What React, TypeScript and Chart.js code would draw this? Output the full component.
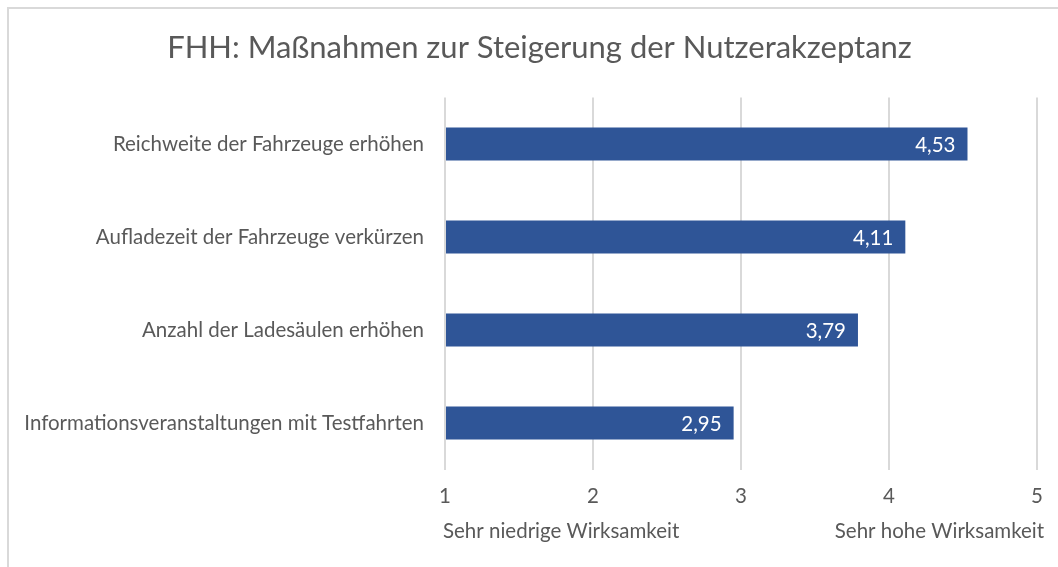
import React, { useEffect, useRef } from 'react';
import { Chart, registerables } from 'chart.js';

Chart.register(...registerables);

const title = 'FHH: Maßnahmen zur Steigerung der Nutzerakzeptanz';
const categories = [
  'Reichweite der Fahrzeuge erhöhen',
  'Aufladezeit der Fahrzeuge verkürzen',
  'Anzahl der Ladesäulen erhöhen',
  'Informationsveranstaltungen mit Testfahrten',
];
const values = [4.53, 4.11, 3.79, 2.95];
const xMin = 1;
const xMax = 5;
const scaleLabelLow = 'Sehr niedrige Wirksamkeit';
const scaleLabelHigh = 'Sehr hohe Wirksamkeit';

const FONT = 'Lato, "Open Sans", sans-serif';
const TEXT = '#595959';
const BAR = '#2F5597';
const GRID = '#d9d9d9';

function fitSize(text: string, target: number): number {
  const c = document.createElement('canvas').getContext('2d')!;
  c.font = `100px ${FONT}`;
  const w = c.measureText(text).width;
  return (100 * target) / w;
}

export default function App() {
  const ref = useRef<HTMLCanvasElement>(null);
  useEffect(() => {
    const canvas = ref.current!;
    const titleSize = fitSize(title, 745);
    const axisSize = fitSize(categories[3], 400);

    const extras = {
      id: 'extras',
      afterDatasetsDraw(chart: any) {
        const ctx = chart.ctx;
        const meta = chart.getDatasetMeta(0);
        ctx.save();
        ctx.fillStyle = '#ffffff';
        ctx.font = `${axisSize}px ${FONT}`;
        ctx.textAlign = 'right';
        ctx.textBaseline = 'middle';
        meta.data.forEach((bar: any, i: number) => {
          ctx.fillText(values[i].toFixed(2).replace('.', ','), bar.x - 12, bar.y + 1);
        });
        ctx.restore();
      },
      afterDraw(chart: any) {
        const ctx = chart.ctx;
        const xs = chart.scales.x;
        ctx.save();
        ctx.fillStyle = TEXT;
        ctx.font = `${titleSize}px ${FONT}`;
        ctx.textBaseline = 'alphabetic';
        ctx.textAlign = 'center';
        ctx.fillText(title, 539.5, 58);
        ctx.font = `${axisSize}px ${FONT}`;
        ctx.textAlign = 'left';
        ctx.fillText(scaleLabelLow, xs.getPixelForValue(xMin) - 2, 538);
        ctx.textAlign = 'right';
        ctx.fillText(scaleLabelHigh, xs.getPixelForValue(xMax) + 7, 538);
        ctx.strokeStyle = GRID;
        ctx.lineWidth = 2;
        ctx.strokeRect(8, 8, 3000, 3000);
        ctx.restore();
      },
    };

    const chart = new Chart(canvas, {
      type: 'bar',
      data: {
        labels: categories,
        datasets: [
          {
            data: values,
            base: xMin,
            backgroundColor: BAR,
            borderWidth: 0,
            barPercentage: 0.355,
            categoryPercentage: 1,
          } as any,
        ],
      },
      options: {
        indexAxis: 'y',
        responsive: false,
        animation: false,
        layout: { padding: { left: 0, right: 20, top: 97.5, bottom: 0 } },
        plugins: {
          legend: { display: false },
          tooltip: { enabled: false },
          title: { display: false },
        },
        scales: {
          x: {
            min: xMin,
            max: xMax,
            ticks: {
              stepSize: 1,
              color: TEXT,
              font: { family: FONT, size: axisSize },
              padding: 15,
              callback: (v: any) => String(v),
            },
            grid: { color: GRID, lineWidth: 2, drawTicks: false },
            border: { display: false },
            afterFit: (s: any) => {
              s.height = 97.5;
            },
          },
          y: {
            ticks: {
              color: TEXT,
              font: { family: FONT, size: axisSize },
              padding: 21,
            },
            grid: { display: false, drawTicks: false },
            border: { display: false },
            afterFit: (s: any) => {
              s.width = 445;
            },
          },
        },
      },
      plugins: [extras],
    });
    return () => chart.destroy();
  }, []);
  return (
    <div style={{ position: 'absolute', left: 0, top: 0, width: 1058, height: 567, background: '#fff' }}>
      <canvas ref={ref} width={1058} height={567} style={{ display: 'block', width: 1058, height: 567 }} />
    </div>
  );
}
